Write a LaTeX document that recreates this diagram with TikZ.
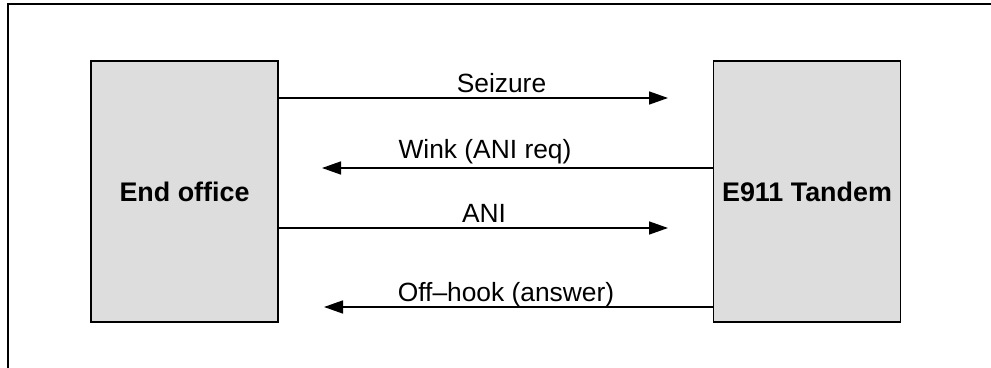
\documentclass[tikz,border=0pt]{standalone}
\usepackage{fontspec}
\setmainfont{Liberation Sans}
\usetikzlibrary{arrows.meta}
\definecolor{boxgray}{HTML}{DDDDDD}

\begin{document}
\begin{tikzpicture}[
	font=\fontsize{15pt}{17pt}\selectfont,
	office/.style={draw, line width=0.9pt, fill=boxgray, minimum width=3.74cm, minimum height=5.22cm, inner sep=0pt, font=\fontsize{15.3pt}{17pt}\selectfont\bfseries},
	signal/.style={line width=0.9pt, -{Triangle[length=0.38cm,width=0.26cm]}},
	msg/.style={anchor=base, inner sep=0pt}
]

			% Page area and frame (top and left edges only)
			\useasboundingbox (0,0) rectangle (19.82,7.36);
			\draw[line width=0.9pt] (0.16,0) -- (0.16,7.28) -- (19.82,7.28);

			% The two exchanges
			\node[office] (eo) at (3.69,3.53) {End office};
			\node[office] (tandem) at (16.14,3.53) {E911 Tandem};

			% Free ends of the signals
			\coordinate (seizEnd) at (13.36,5.40);
			\coordinate (winkEnd) at (6.44,4.00);
			\coordinate (aniEnd) at (13.36,2.80);
			\coordinate (hookEnd) at (6.48,1.22);

			% Signals
			\draw[signal] (eo.east |- seizEnd) -- (seizEnd);
			\draw[signal] (tandem.west |- winkEnd) -- (winkEnd);
			\draw[signal] (eo.east |- aniEnd) -- (aniEnd);
			\draw[signal] (tandem.west |- hookEnd) -- (hookEnd);

			% Labels
			\node[msg] (seizLbl) at (10.03,5.50) {Seizure};
			\node[msg] (winkLbl) at (9.70,4.18) {Wink (ANI req)};
			\node[msg] (aniLbl) at (9.68,2.90) {ANI};
			\node[msg] (hookLbl) at (10.12,1.32) {Off–hook (answer)};

		\end{tikzpicture}
\end{document}
